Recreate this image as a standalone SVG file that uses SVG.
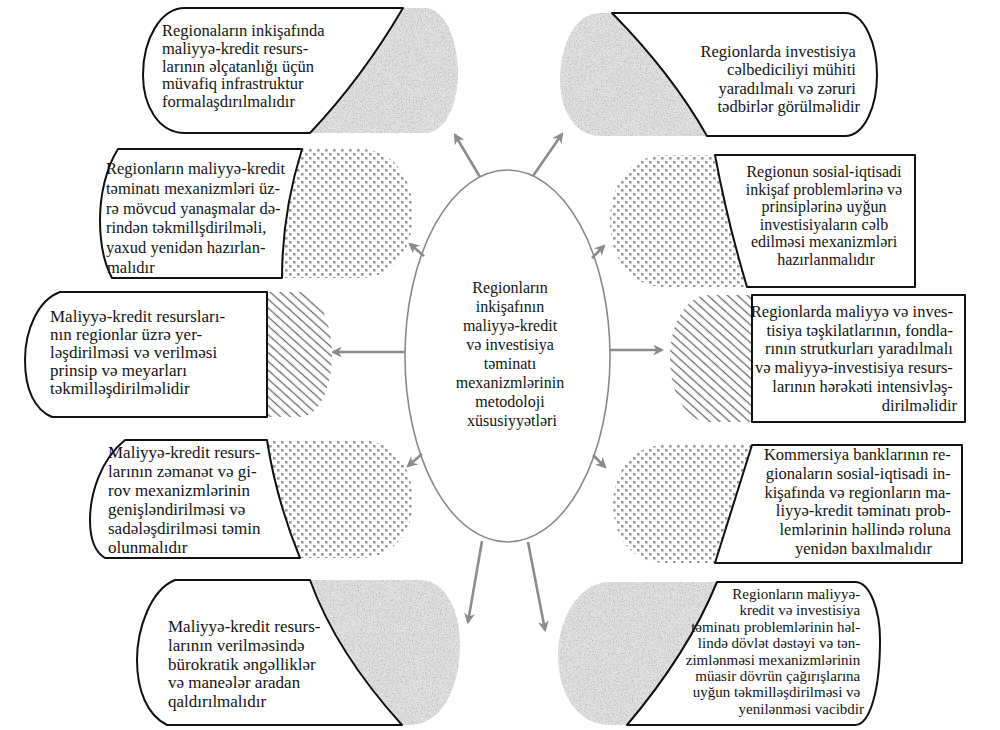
<svg xmlns="http://www.w3.org/2000/svg" width="1000" height="730" viewBox="0 0 1000 730">
<style>
.t{font-family:"Liberation Serif","Times New Roman",serif;fill:#141414}
.w{fill:#fff;stroke:#111;stroke-width:2;stroke-linejoin:round}
.st{fill:#e2e2e2;filter:url(#stip)}
.dt{fill:url(#dots)}
.ht{fill:url(#hatch)}
.c{stroke:#8c8c8c;stroke-width:2.6;fill:none;marker-end:url(#ah)}
</style>
<defs>
<filter id="stip" x="-5%" y="-5%" width="110%" height="110%">
<feTurbulence type="fractalNoise" baseFrequency="0.75" numOctaves="2" seed="4" result="n"/>
<feColorMatrix in="n" type="matrix" values="0 0 0 0 0.45  0 0 0 0 0.45  0 0 0 0 0.45  2.2 0 0 0 -0.95" result="g"/>
<feComposite in="g" in2="SourceGraphic" operator="in" result="gs"/>
<feMerge><feMergeNode in="SourceGraphic"/><feMergeNode in="gs"/></feMerge>
</filter>
<pattern id="dots" width="8" height="8" patternUnits="userSpaceOnUse">
<rect width="8" height="8" fill="#fff"/>
<rect x="1" y="1" width="2.6" height="2.6" fill="#9a9a9a"/>
<rect x="5" y="5" width="2.6" height="2.6" fill="#9a9a9a"/>
</pattern>
<pattern id="hatch" width="7" height="6.6" patternUnits="userSpaceOnUse" patternTransform="rotate(42)">
<rect width="7" height="6.6" fill="#fff"/>
<line x1="0" y1="3.3" x2="7" y2="3.3" stroke="#6a6a6a" stroke-width="1.3"/>
</pattern>
<marker id="ah" viewBox="0 0 10 10" refX="8" refY="5" markerWidth="11" markerHeight="11" markerUnits="userSpaceOnUse" orient="auto">
<path d="M0,0 L10,5 L0,10 L3,5 Z" fill="#8c8c8c"/>
</marker>
</defs>

<g id="center">
<ellipse cx="507.5" cy="356" rx="102.5" ry="186" fill="#fff" stroke="#8a8a8a" stroke-width="1.6"/>
<text class="t" font-size="16" text-anchor="middle">
<tspan x="512" y="293">Regionların</tspan>
<tspan x="512" y="312">inkişafının</tspan>
<tspan x="512" y="331">maliyyə-kredit</tspan>
<tspan x="512" y="350">və investisiya</tspan>
<tspan x="512" y="369">təminatı</tspan>
<tspan x="512" y="388">mexanizmlərinin</tspan>
<tspan x="512" y="407">metodoloji</tspan>
<tspan x="512" y="426">xüsusiyyətləri</tspan>
</text>
</g>

<g id="connectors">
<line class="c" x1="480" y1="177" x2="455" y2="135"/>
<line class="c" x1="533" y1="176" x2="562" y2="134"/>
<line class="c" x1="424" y1="256" x2="410" y2="244"/>
<line class="c" x1="592" y1="258" x2="604" y2="246"/>
<line class="c" x1="405" y1="352" x2="333" y2="352"/>
<line class="c" x1="610" y1="350" x2="662" y2="350"/>
<line class="c" x1="422" y1="454" x2="408" y2="466"/>
<line class="c" x1="593" y1="455" x2="605" y2="467"/>
<line class="c" x1="482" y1="541" x2="468" y2="622"/>
<line class="c" x1="528" y1="542" x2="545" y2="630"/>
</g>

<g id="node1">
<path class="st" d="M403 8 L425 8 C445 8 458 40 458 72 C458 105 445 133 425 133 L310 133 Q362 78 403 8 Z"/>
<path class="w" d="M403 8 L185 8 C160 8 143 40 143 75 C143 105 158 133 185 133 L310 133 Q362 78 403 8 Z"/>
<text class="t" font-size="16.5">
<tspan x="162" y="36">Regionaların inkişafında</tspan>
<tspan x="162" y="54">maliyyə-kredit resurs-</tspan>
<tspan x="162" y="72">larının əlçatanlığı üçün</tspan>
<tspan x="162" y="89">müvafiq infrastruktur</tspan>
<tspan x="162" y="107">formalaşdırılmalıdır</tspan>
</text>
</g>

<g id="node2">
<path class="st" d="M612 13 L600 13 C575 13 560 45 560 80 C560 110 575 136 600 136 L707 136 Q672 74 612 13 Z"/>
<path class="w" d="M612 13 L845 13 C865 13 877 45 877 75 C877 105 865 136 845 136 L707 136 Q672 74 612 13 Z"/>
<text class="t" font-size="16.5" text-anchor="end">
<tspan x="860" y="57">Regionlarda investisiya</tspan>
<tspan x="860" y="75">cəlbediciliyi mühiti</tspan>
<tspan x="860" y="94">yaradılmalı və zəruri</tspan>
<tspan x="860" y="112">tədbirlər görülməlidir</tspan>
</text>
</g>

<g id="node3">
<path class="dt" d="M302 149 L360 149 C395 149 413 180 413 213 C413 248 395 278 360 278 L282 278 Q282 213 302 149 Z"/>
<path class="w" d="M302 149 L118 149 C106 168 100 195 100 220 C100 245 105 265 112 278 L282 278 Q282 213 302 149 Z"/>
<text class="t" font-size="16.5">
<tspan x="106" y="174">Regionların maliyyə-kredit</tspan>
<tspan x="106" y="194">təminatı mexanizmləri üz-</tspan>
<tspan x="106" y="214">rə mövcud yanaşmalar də-</tspan>
<tspan x="106" y="233">rindən təkmillşdirilməli,</tspan>
<tspan x="106" y="253">yaxud yenidən hazırlan-</tspan>
<tspan x="107" y="273">malıdır</tspan>
</text>
</g>

<g id="node4">
<path class="dt" d="M715 155 L665 155 C630 155 610 185 610 221 C610 258 630 287 665 287 L747 287 Q727 220 715 155 Z"/>
<path class="w" d="M715 155 L915 155 L915 287 L747 287 Q727 220 715 155 Z"/>
<text class="t" font-size="16" text-anchor="middle">
<tspan x="826" y="177">Regionun sosial-iqtisadi</tspan>
<tspan x="826" y="195">inkişaf problemlərinə və</tspan>
<tspan x="826" y="212">prinsiplərinə uyğun</tspan>
<tspan x="826" y="230">investisiyaların cəlb</tspan>
<tspan x="826" y="247">edilməsi mexanizmləri</tspan>
<tspan x="826" y="265">hazırlanmalıdır</tspan>
</text>
</g>

<g id="node5">
<path class="ht" d="M267 292 L300 292 C320 292 332 325 332 355 C332 385 320 417 300 417 L267 417 Z"/>
<path class="w" d="M267 292 L60 292 C38 300 25 330 25 360 C25 390 35 410 52 417 L267 417 Z"/>
<text class="t" font-size="17">
<tspan x="50" y="322">Maliyyə-kredit resursları-</tspan>
<tspan x="50" y="340">nın regionlar üzrə yer-</tspan>
<tspan x="50" y="358">ləşdirilməsi və verilməsi</tspan>
<tspan x="50" y="376">prinsip və meyarları</tspan>
<tspan x="50" y="394">təkmilləşdirilməlidir</tspan>
</text>
</g>

<g id="node6">
<path class="ht" d="M752 295 L710 295 C685 295 670 325 670 358 C670 392 685 422 710 422 L752 422 Z"/>
<path class="w" d="M752 295 L965 295 L965 422 L752 422 Z"/>
<text class="t" font-size="16.5" text-anchor="end">
<tspan x="957" y="317">Regionlarda maliyyə və inves-</tspan>
<tspan x="957" y="336">tisiya təşkilatlarının, fondla-</tspan>
<tspan x="957" y="354">rının strutkurları yaradılmalı</tspan>
<tspan x="957" y="373">və maliyyə-investisiya resurs-</tspan>
<tspan x="957" y="392">larının hərəkəti intensivləş-</tspan>
<tspan x="957" y="411">dirilməlidir</tspan>
</text>
</g>

<g id="node7">
<path class="dt" d="M267 440 L360 440 C395 440 413 470 413 500 C413 530 395 558 360 558 L300 558 Q276 499 267 440 Z"/>
<path class="w" d="M267 440 L125 440 C100 460 90 495 90 520 C90 540 95 552 105 558 L300 558 Q276 499 267 440 Z"/>
<text class="t" font-size="17">
<tspan x="108" y="458">Maliyyə-kredit resurs-</tspan>
<tspan x="108" y="477">larının zəmanət və gi-</tspan>
<tspan x="108" y="496">rov mexanizmlərinin</tspan>
<tspan x="108" y="515">genişləndirilməsi və</tspan>
<tspan x="108" y="534">sadələşdirilməsi təmin</tspan>
<tspan x="108" y="553">olunmalıdır</tspan>
</text>
</g>

<g id="node8">
<path class="dt" d="M752 445 L665 445 C630 445 613 475 613 504 C613 535 630 563 665 563 L715 563 Z"/>
<path class="w" d="M752 445 L962 445 L962 563 L715 563 Z"/>
<text class="t" font-size="16.5" text-anchor="end">
<tspan x="955" y="460">Kommersiya banklarının re-</tspan>
<tspan x="955" y="479">gionaların sosial-iqtisadi in-</tspan>
<tspan x="955" y="498">kişafında və regionların ma-</tspan>
<tspan x="955" y="516">liyyə-kredit təminatı prob-</tspan>
<tspan x="955" y="535">lemlərinin həllində roluna</tspan>
<tspan x="932" y="554">yenidən baxılmalıdır</tspan>
</text>
</g>

<g id="node9">
<path class="st" d="M310 580 L420 580 C445 580 460 610 460 645 C460 690 440 725 410 725 L402 725 Q336 652 310 580 Z"/>
<path class="w" d="M310 580 L175 580 C150 590 137 630 137 660 C137 690 147 715 167 725 L402 725 Q336 652 310 580 Z"/>
<text class="t" font-size="17">
<tspan x="168" y="632">Maliyyə-kredit resurs-</tspan>
<tspan x="168" y="651">larının verilməsində</tspan>
<tspan x="168" y="670">bürokratik əngəlliklər</tspan>
<tspan x="168" y="688">və maneələr aradan</tspan>
<tspan x="168" y="707">qaldırılmalıdır</tspan>
</text>
</g>

<g id="node10">
<path class="st" d="M717 582 L610 582 C575 582 558 625 558 655 C558 690 575 725 610 725 L627 725 Q688 653 717 582 Z"/>
<path class="w" d="M717 582 L855 582 C870 582 880 610 880 640 C880 690 870 725 855 725 L627 725 Q688 653 717 582 Z"/>
<text class="t" font-size="15" text-anchor="end">
<tspan x="864" y="599">Regionların maliyyə-</tspan>
<tspan x="864" y="615">kredit və investisiya</tspan>
<tspan x="864" y="632">təminatı problemlərinin həl-</tspan>
<tspan x="864" y="648">lində dövlət dəstəyi və tən-</tspan>
<tspan x="864" y="665">zimlənməsi mexanizmlərinin</tspan>
<tspan x="864" y="681">müasir dövrün çağırışlarına</tspan>
<tspan x="864" y="697">uyğun təkmilləşdirilməsi və</tspan>
<tspan x="864" y="714">yenilənməsi vacibdir</tspan>
</text>
</g>
</svg>
